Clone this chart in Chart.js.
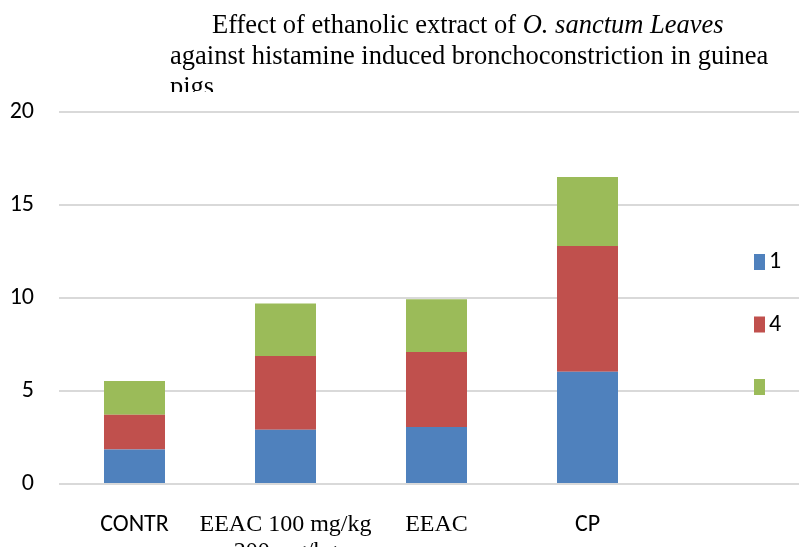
<!DOCTYPE html>
<html>
<head>
<meta charset="utf-8">
<script src="https://cdn.jsdelivr.net/npm/chart.js@4.4.0/dist/chart.umd.min.js"></script>
<style>
    html, body { margin: 0; padding: 0; background: #fff; overflow: hidden; width: 799px; height: 547px; }
    #wrap { position: relative; width: 799px; height: 547px; overflow: hidden; }
    #myChart { position: absolute; left: 0; top: 0; }
    .title { position: absolute; left: 0; top: 0; width: 799px; height: 92px; overflow: hidden;
             font-family: "Liberation Serif", "Times New Roman", serif; font-size: 26.5px; line-height: 31px; color: #000; }
    .title div { position: absolute; white-space: nowrap; }
</style>
</head>
<body>
<div id="wrap">
    <canvas id="myChart" width="830" height="547"></canvas>
    <div class="title">
        <div style="left:212px; top:9px;">Effect of ethanolic extract of <i>O. sanctum Leaves</i></div>
        <div style="left:170px; top:40px;">against histamine induced bronchoconstriction in guinea</div>
        <div style="left:170px; top:71px;">pigs</div>
    </div>
</div>
<script>
    "use strict";

    // chart data
    const categories = ["CONTR", ["EEAC 100 mg/kg", "200 mg/kg"], "EEAC", "CP", ""];
    const seriesNames = ["1", "4", ""];
    const series1 = [1.86, 2.92, 3.06, 6.04, null];
    const series4 = [1.86, 3.96, 4.04, 6.76, null];
    const series3 = [1.82, 2.83, 2.83, 3.70, null];
    const yTicks = [0, 5, 10, 15, 20];

    const colors = ["#4f81bd", "#c0504d", "#9bbb59"];
    const sansFont = "'Liberation Sans Narrow', Carlito, Lato, sans-serif";
    const serifFont = "'Liberation Serif', 'Times New Roman', serif";

    // legend drawn inside the plot, on the right (like the original)
    const sideLegend = {
        id: "sideLegend",
        afterDraw(chart) {
            const c = chart.ctx;
            c.save();
            chart.data.datasets.forEach((ds, i) => {
                const y = 254 + i * 62.5;
                c.fillStyle = ds.backgroundColor;
                c.fillRect(754, y, 11, 16);
                c.fillStyle = "#000";
                c.font = "24px " + sansFont;
                c.textBaseline = "middle";
                c.fillText(ds.label, 769, y + 8);
            });
            c.restore();
        }
    };

    let ctx = document.getElementById("myChart").getContext("2d");
    let myChart = new Chart(ctx, {
        type: "bar",
        data: {
            labels: categories,
            datasets: [
                { label: seriesNames[0], data: series1, backgroundColor: colors[0] },
                { label: seriesNames[1], data: series4, backgroundColor: colors[1] },
                { label: seriesNames[2], data: series3, backgroundColor: colors[2] }
            ]
        },
        options: {
            responsive: false,
            animation: false,
            devicePixelRatio: 1,
            layout: {
                padding: { top: 112, right: 16, left: 0, bottom: 0 }
            },
            datasets: {
                bar: { categoryPercentage: 1, barPercentage: 0.404 }
            },
            plugins: {
                legend: { display: false },
                title: { display: false },
                tooltip: { enabled: false }
            },
            scales: {
                x: {
                    stacked: true,
                    grid: { display: false },
                    border: { display: false },
                    ticks: {
                        color: "#000",
                        padding: 20,
                        maxRotation: 0,
                        autoSkip: false,
                        font: (c) => {
                            const i = c.index;
                            if (i === 1 || i === 2) return { family: serifFont, size: 24, lineHeight: 1.1 };
                            return { family: sansFont, size: 24, lineHeight: 1.1 };
                        }
                    },
                    afterFit(scale) { scale.height = 63; }
                },
                y: {
                    stacked: true,
                    min: 0,
                    max: 20,
                    afterBuildTicks(scale) { scale.ticks = yTicks.map(v => ({ value: v })); },
                    grid: { color: "#d9d9d9", lineWidth: 2, drawTicks: false },
                    border: { display: false },
                    ticks: {
                        color: "#000",
                        padding: 25,
                        font: { family: sansFont, size: 24 }
                    },
                    afterFit(scale) { scale.width = 59; }
                }
            }
        },
        plugins: [sideLegend]
    });
</script>
</body>
</html>
